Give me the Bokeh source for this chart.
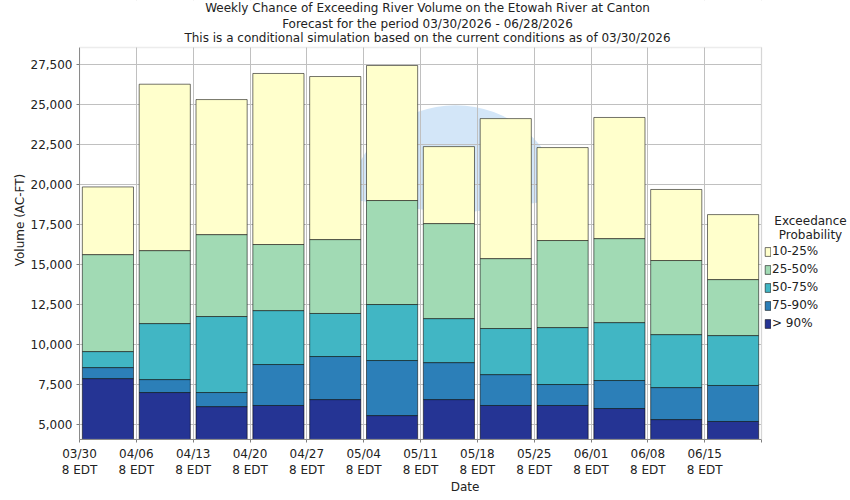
import math
from bokeh.plotting import figure
from bokeh.models import (Range1d, FixedTicker, NumeralTickFormatter, Label,
                          Legend, LegendItem, BoxAnnotation)
from bokeh.embed import file_html
from bokeh.resources import INLINE

# ---- data ----
weeks = ["03/30", "04/06", "04/13", "04/20", "04/27", "05/04",
         "05/11", "05/18", "05/25", "06/01", "06/08", "06/15"]
tick_suffix = "8 EDT"
p90 = [7850, 6980, 6100, 6170, 6540, 5540, 6540, 6170, 6170, 5980, 5290, 5170]
p75 = [8540, 7790, 6980, 8730, 9230, 8980, 8850, 8100, 7480, 7730, 7290, 7420]
p50 = [9540, 11290, 11730, 12100, 11920, 12480, 11600, 10980, 11040, 11350, 10600, 10540]
p25 = [15600, 15850, 16850, 16230, 16540, 18980, 17540, 15350, 16480, 16600, 15230, 14040]
p10 = [19830, 26250, 25290, 26920, 26730, 27420, 22350, 24100, 22290, 24170, 19670, 18100]
band_labels = ["10-25%", "25-50%", "50-75%", "75-90%", "> 90%"]
band_colors = ["#ffffcc", "#a1dab4", "#41b6c4", "#2c7fb8", "#253494"]
y_ticks = [5000, 7500, 10000, 12500, 15000, 17500, 20000, 22500, 25000, 27500]
y_start, y_end = 4044, 28544

title_lines = ["Weekly Chance of Exceeding River Volume on the Etowah River at Canton",
               "Forecast for the period 03/30/2026 - 06/28/2026",
               "This is a conditional simulation based on the current conditions as of 03/30/2026"]

FONT = "DejaVu Sans"
TXT = "#222222"
GRID = "#c0c0c0"

n = len(weeks)
FW, FH = 771, 439          # frame covers plot + legend + title area
px_x = 682.0 / n           # px per week
px_y = 392.0 / (y_end - y_start)
x_hi = FW / px_x
y_hi = y_start + FH / px_y

p = figure(frame_width=FW, frame_height=FH, output_backend="svg", toolbar_location=None,
           x_range=Range1d(0, x_hi), y_range=Range1d(y_start, y_hi),
           min_border_left=79, min_border_right=0, min_border_top=0,
           min_border_bottom=61, title=None)
p.background_fill_color = "white"
p.border_fill_color = "white"
p.outline_line_color = None

# faint watermark disc (decoration)
p.wedge(x=6.616, y=18125, radius=109, radius_units="screen",
        start_angle=math.radians(8), end_angle=math.radians(172),
        fill_color="#d3e6f8", line_color=None, level="image")

centers = [i + 0.5 for i in range(n)]
bottoms = [[y_start] * n, p90, p75, p50, p25]
tops = [p90, p75, p50, p25, p10]
renderers = {}
for k in range(5):
    band = 4 - k  # from > 90% upward
    r = p.vbar(x=centers, width=0.9, bottom=bottoms[k], top=tops[k],
               fill_color=band_colors[band], line_color="black", line_alpha=0.55,
               line_width=1)
    renderers[band] = r

# axes
xt = list(range(n + 1))
p.xaxis.ticker = FixedTicker(ticks=xt)
p.xaxis.bounds = (0, n)
p.xaxis.major_label_overrides = {i: (weeks[i] + "\n" + tick_suffix if i < n else "") for i in xt}
p.yaxis.ticker = FixedTicker(ticks=y_ticks)
p.yaxis.bounds = (y_start, y_end)
p.yaxis.formatter = NumeralTickFormatter(format="0,0")
for ax in (p.xaxis, p.yaxis):
    ax.major_label_text_font = FONT
    ax.major_label_text_font_size = "12px"
    ax.major_label_text_color = TXT
    ax.axis_line_color = "#808080"
    ax.major_tick_line_color = "#808080"
    ax.major_tick_in = 0
    ax.major_tick_out = 3
    ax.minor_tick_line_color = None
    ax.axis_label_text_font = FONT
    ax.axis_label_text_font_size = "12px"
    ax.axis_label_text_font_style = "normal"
    ax.axis_label_text_color = TXT
p.xaxis.major_label_standoff = 4
p.yaxis.major_label_standoff = 4
p.xaxis.axis_label = "Date"
p.xaxis.axis_label_standoff = 0
p.yaxis.axis_label = "Volume (AC-FT)"
p.yaxis.axis_label_standoff = 1
p.xgrid.ticker = FixedTicker(ticks=xt)
p.ygrid.ticker = FixedTicker(ticks=y_ticks)
p.grid.grid_line_color = GRID
p.grid.grid_line_width = 1

# mask grid outside the plotting area, then draw the plot border
p.add_layout(BoxAnnotation(bottom=y_end, fill_color="white", fill_alpha=1, line_color=None))
p.add_layout(BoxAnnotation(left=n, fill_color="white", fill_alpha=1, line_color=None))
p.add_layout(BoxAnnotation(left=0, right=n, bottom=y_start, top=y_end, fill_alpha=0,
                           line_color=GRID, line_width=1.5))

# titles
for line, yy in zip(title_lines, [431.5, 416.0, 401.8]):
    p.add_layout(Label(x=348, y=yy, x_units="screen", y_units="screen", text=line,
                       text_align="center", text_baseline="alphabetic",
                       text_font=FONT, text_font_size="12px", text_color=TXT))

# legend title
for line, yy in zip(["Exceedance", "Probability"], [219, 205]):
    p.add_layout(Label(x=731, y=yy, x_units="screen", y_units="screen", text=line,
                       text_align="center", text_baseline="middle",
                       text_font=FONT, text_font_size="12px", text_color=TXT))

legend = Legend(items=[LegendItem(label=band_labels[b], renderers=[renderers[b]]) for b in range(5)],
                location=(685, 108), orientation="vertical",
                glyph_width=7, glyph_height=11, label_height=16, spacing=2,
                padding=0, margin=0, label_standoff=1,
                border_line_color=None, background_fill_alpha=0,
                label_text_font=FONT, label_text_font_size="12px",
                label_text_color=TXT)
p.add_layout(legend)

open("out.html", "w").write(file_html(p, INLINE))
